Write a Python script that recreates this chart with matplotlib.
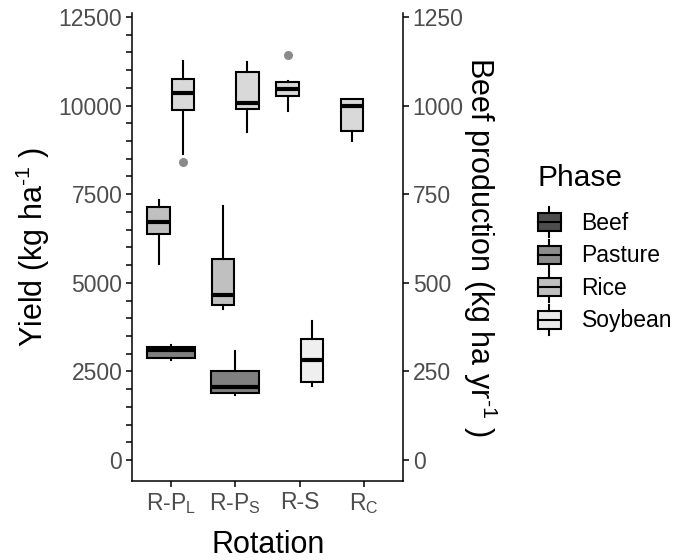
import matplotlib
matplotlib.use("Agg")
import matplotlib.pyplot as plt
from matplotlib.legend_handler import HandlerBase
from matplotlib.patches import Rectangle, Patch
from matplotlib.lines import Line2D
import numpy as np

plt.rcParams['font.family'] = ['Liberation Sans', 'DejaVu Sans']
plt.rcParams['mathtext.default'] = 'regular'

# categories
rotations = [r'R-P$_{L}$', r'R-P$_{S}$', 'R-S', r'R$_{C}$']
phases = ['Beef', 'Pasture', 'Rice', 'Soybean']

# crop yield boxes (kg ha-1)
crop_rotation = [0, 0, 1, 1, 2, 2, 3]
crop_phase = ['Pasture', 'Rice', 'Pasture', 'Rice', 'Rice', 'Soybean', 'Rice']
crop_slot = [0, 1, 0, 1, 0, 1, 0]
crop_whislo = [5530, 8640, 4260, 9255, 9850, 2090, 8990]
crop_q1 = [6370, 9865, 4375, 9895, 10270, 2190, 9290]
crop_med = [6725, 10345, 4655, 10080, 10460, 2815, 9990]
crop_q3 = [7150, 10750, 5670, 10950, 10675, 3425, 10175]
crop_whishi = [7335, 11260, 7175, 11230, 10695, 3920, 10195]
crop_fliers = [[], [8400], [], [], [11420], [], []]

# beef production boxes (kg ha-1 yr-1)
beef_rotation = [0, 1]
beef_whislo = [282, 183]
beef_q1 = [287, 188]
beef_med = [310, 206]
beef_q3 = [320, 251]
beef_whishi = [324, 308]

box_colors = {'Beef': '#808080', 'Pasture': '#c0c0c0', 'Rice': '#d9d9d9', 'Soybean': '#efefef'}
legend_colors = {'Beef': '#4d4d4d', 'Pasture': '#8c8c8c', 'Rice': '#bfbfbf', 'Soybean': '#ebebeb'}

fig = plt.figure(figsize=(6.97, 5.6), dpi=100)
ax = fig.add_axes([132 / 697, 1 - 481 / 560, 271 / 697, 468 / 560])
ax2 = ax.twinx()

scale = 10  # right axis = left axis / 10
ylo, yhi = -593, 12613
ax.set_ylim(ylo, yhi)
ax2.set_ylim(ylo / scale, yhi / scale)
ax.set_xlim(-0.6, 3.6)

lw = 1.5
common = dict(patch_artist=True, showcaps=False, manage_ticks=False,
              boxprops=dict(edgecolor='black', linewidth=lw),
              whiskerprops=dict(color='black', linewidth=lw),
              medianprops=dict(color='black', linewidth=3),
              flierprops=dict(marker='o', markerfacecolor='#8a8a8a', markeredgecolor='none',
                              markersize=6.5))

# crop boxes, dodged in two slots
offs = [-0.1875, 0.1875]
for i in range(len(crop_rotation)):
    st = [dict(whislo=crop_whislo[i], q1=crop_q1[i], med=crop_med[i], q3=crop_q3[i],
               whishi=crop_whishi[i], fliers=crop_fliers[i])]
    bp = ax.bxp(st, positions=[crop_rotation[i] + offs[crop_slot[i]]], widths=0.35, **common)
    bp['boxes'][0].set_facecolor(box_colors[crop_phase[i]])

# beef boxes (right axis)
for i in range(len(beef_rotation)):
    st = [dict(whislo=beef_whislo[i], q1=beef_q1[i], med=beef_med[i], q3=beef_q3[i],
               whishi=beef_whishi[i], fliers=[])]
    bp = ax2.bxp(st, positions=[beef_rotation[i]], widths=0.75, **common)
    bp['boxes'][0].set_facecolor(box_colors['Beef'])

# axes styling
tick_color = '#4d4d4d'
ax.set_xticks(range(len(rotations)))
ax.set_xticklabels(rotations)
ax.set_yticks(np.arange(0, 12501, 2500))
ax.set_yticks(np.arange(0, 12501, 500), minor=True)
ax2.set_yticks(np.arange(0, 1251, 250))
for a in (ax, ax2):
    a.spines['top'].set_visible(False)
    for s in a.spines.values():
        s.set_linewidth(1.1)
    a.tick_params(axis='both', which='both', length=4, width=1.1, labelsize=16.5,
                  labelcolor=tick_color, pad=3)
ax.spines['right'].set_visible(False)
ax2.spines['left'].set_visible(False)
ax2.spines['bottom'].set_visible(False)

hy = '\u2010'
title_fs = 22
ax.set_xlabel('Rotation', fontsize=title_fs)
ax.set_ylabel('Yield (kg ha$^{' + hy + '1}$ )', fontsize=title_fs)
ax2.set_ylabel('Beef production (kg ha yr$^{' + hy + '1}$ )', fontsize=title_fs, rotation=270)
for lab in (ax.xaxis.label, ax.yaxis.label, ax2.yaxis.label):
    lab.set_verticalalignment('center')
    lab.set_horizontalalignment('center')
ax.xaxis.set_label_coords((268 - 132) / 271, (481 - 545) / 468)
ax.yaxis.set_label_coords((33 - 132) / 271, 0.5)
ax2.yaxis.set_label_coords((480 - 132) / 271, 0.5)


class BoxKey(HandlerBase):
    def create_artists(self, legend, orig_handle, xdescent, ydescent, width, height, fontsize, trans):
        fc = orig_handle.get_facecolor()
        bw, bh = width, height * 0.6
        x0 = -xdescent
        y0 = (height - bh) / 2 - ydescent
        cx = width / 2 - xdescent
        rect = Rectangle((x0, y0), bw, bh, facecolor=fc, edgecolor='black', linewidth=lw, transform=trans)
        top = Line2D([cx, cx], [y0 + bh, height - ydescent], color='black', linewidth=lw, transform=trans)
        bot = Line2D([cx, cx], [-ydescent, y0], color='black', linewidth=lw, transform=trans)
        med = Line2D([x0, x0 + bw], [y0 + bh / 2, y0 + bh / 2], color='black', linewidth=lw, transform=trans)
        return [rect, top, bot, med]


handles = [Patch(facecolor=legend_colors[p]) for p in phases]
leg = fig.legend(handles, phases, handler_map={Patch: BoxKey()}, loc='upper left',
                 bbox_to_anchor=(538 / 697, 1 - 164 / 560), frameon=False, fontsize=16.5,
                 title='Phase', title_fontsize=21.5, handlelength=1.0, handleheight=1.65,
                 labelspacing=0.1, handletextpad=0.9, borderaxespad=0, borderpad=0)
leg._legend_box.align = 'left'
leg._legend_box.sep = 11

fig.savefig('out.png', dpi=100)
